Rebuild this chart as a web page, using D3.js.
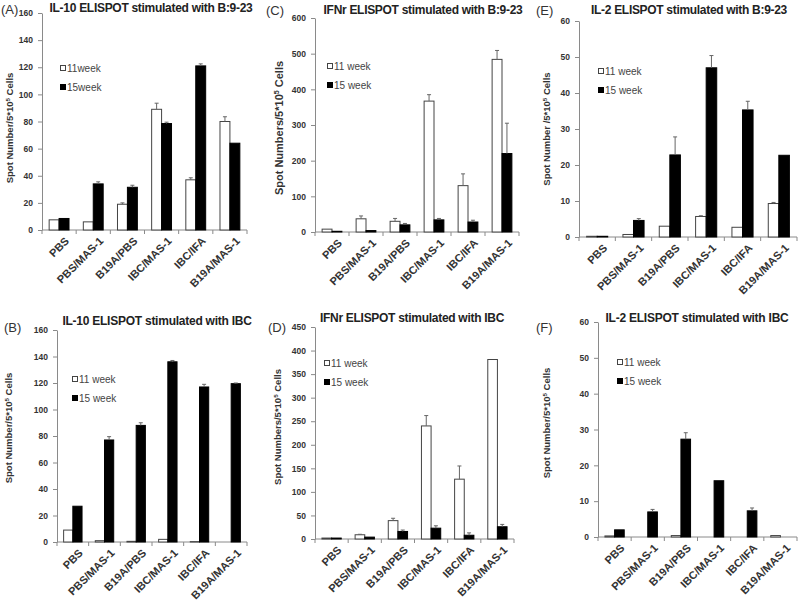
<!DOCTYPE html>
<html>
<head>
<meta charset="utf-8">
<script src="https://cdn.jsdelivr.net/npm/d3@7"></script>
<style>
  html, body { margin: 0; padding: 0; background: #fff; }
  svg { display: block; font-family: "Liberation Sans", Arial, sans-serif; }
</style>
</head>
<body>
<svg id="chart" width="800" height="600"></svg>
<script>
// ---------------- DATA ----------------
const categories = ["PBS", "PBS/MAS-1", "B19A/PBS", "IBC/MAS-1", "IBC/IFA", "B19A/MAS-1"];

// (A) IL-10, B:9-23
const il10B923_w11     = [7.5, 6, 19, 89, 37, 80];
const il10B923_w11_err = [0, 0, 1, 4.5, 1.5, 3.5];
const il10B923_w15     = [8.5, 34, 31.5, 78.5, 121, 64];
const il10B923_w15_err = [0, 1.5, 1.5, 1, 1.5, 0];
const ticksA = [0, 20, 40, 60, 80, 100, 120, 140, 160];

// (B) IL-10, IBC
const il10IBC_w11     = [9, 1, 0.5, 2, 0.3, 0];
const il10IBC_w11_err = [0, 0, 0, 0, 0, 0];
const il10IBC_w15     = [27, 77, 88, 136, 117, 119.5];
const il10IBC_w15_err = [0, 2.5, 2, 1, 2, 0.5];
const ticksB = [0, 20, 40, 60, 80, 100, 120, 140, 160];

// (C) IFNr, B:9-23
const ifnB923_w11     = [8, 37, 30, 367, 130, 484];
const ifnB923_w11_err = [0, 8, 8, 18, 33, 25];
const ifnB923_w15     = [2, 4, 20, 34, 28, 220];
const ifnB923_w15_err = [0, 0, 4, 4, 5, 85];
const ticksC = [0, 100, 200, 300, 400, 500, 600];

// (D) IFNr, IBC
const ifnIBC_w11     = [2, 9, 39, 240, 127, 381];
const ifnIBC_w11_err = [0, 1, 5, 22, 28, 0];
const ifnIBC_w15     = [2, 4, 16, 23, 8, 26];
const ifnIBC_w15_err = [0, 0, 3, 5, 5, 5];
const ticksD = [0, 50, 100, 150, 200, 250, 300, 350, 400, 450];

// (E) IL-2, B:9-23
const il2B923_w11     = [0.2, 0.7, 3, 5.7, 2.7, 9.3];
const il2B923_w11_err = [0, 0, 0, 0.2, 0, 0.3];
const il2B923_w15     = [0.2, 4.6, 22.8, 47, 35.3, 22.7];
const il2B923_w15_err = [0, 0.5, 5, 3.4, 2.4, 0];
const ticksE = [0, 10, 20, 30, 40, 50, 60];

// (F) IL-2, IBC
const il2IBC_w11     = [0.3, 0, 0.4, 0, 0, 0.4];
const il2IBC_w11_err = [0, 0, 0, 0, 0, 0];
const il2IBC_w15     = [2, 7, 27.3, 15.7, 7.3, 0];
const il2IBC_w15_err = [0, 0.7, 1.8, 0, 0.8, 0];
const ticksF = [0, 10, 20, 30, 40, 50, 60];

// ---------------- LAYOUT ----------------
const panels = [
  { tag: "(A)", title: "IL-10 ELISPOT stimulated with B:9-23", ylab: "Spot Number/5*10", ylabEnd: " Cells",
    leg: ["11week", "15week"], w11: il10B923_w11, e11: il10B923_w11_err, w15: il10B923_w15, e15: il10B923_w15_err, ticks: ticksA,
    x0: 42, x1: 247, yTop: 13, yBot: 230, tagX: 1, tagY: 9, titleX: 151, titleY: 8, titleW: 203,
    ylX: 10, ylY: 128, ylSize: 9.5, legX: 63, legY: 68 },
  { tag: "(C)", title: "IFNr ELISPOT stimulated with B:9-23", ylab: "Spot Numbers/5*10", ylabEnd: " Cells",
    leg: ["11 week", "15 week"], w11: ifnB923_w11, e11: ifnB923_w11_err, w15: ifnB923_w15, e15: ifnB923_w15_err, ticks: ticksC,
    x0: 315, x1: 519, yTop: 18, yBot: 232, tagX: 266, tagY: 10, titleX: 423, titleY: 10, titleW: 199,
    ylX: 279, ylY: 128, ylSize: 11, legX: 330, legY: 66 },
  { tag: "(E)", title: "IL-2 ELISPOT stimulated with B:9-23", ylab: "Spot Number /5*10", ylabEnd: " Cells",
    leg: ["11 week", "15 week"], w11: il2B923_w11, e11: il2B923_w11_err, w15: il2B923_w15, e15: il2B923_w15_err, ticks: ticksE,
    x0: 579, x1: 797, yTop: 21, yBot: 237, tagX: 536, tagY: 10, titleX: 689, titleY: 10, titleW: 196,
    ylX: 547, ylY: 129, ylSize: 9.5, legX: 601, legY: 71 },
  { tag: "(B)", title: "IL-10 ELISPOT stimulated with IBC", ylab: "Spot Number/5*10", ylabEnd: " Cells",
    leg: ["11 week", "15 week"], w11: il10IBC_w11, e11: il10IBC_w11_err, w15: il10IBC_w15, e15: il10IBC_w15_err, ticks: ticksB,
    x0: 57, x1: 247, yTop: 330, yBot: 542, tagX: 4, tagY: 327, titleX: 157, titleY: 321, titleW: 189,
    ylX: 9, ylY: 428, ylSize: 9.5, legX: 75, legY: 379 },
  { tag: "(D)", title: "IFNr ELISPOT stimulated with IBC", ylab: "Spot Numbers/5*10", ylabEnd: "  Cells",
    leg: ["11 week", "15 week"], w11: ifnIBC_w11, e11: ifnIBC_w11_err, w15: ifnIBC_w15, e15: ifnIBC_w15_err, ticks: ticksD,
    x0: 315, x1: 514, yTop: 327, yBot: 539, tagX: 268, tagY: 327, titleX: 412, titleY: 318, titleW: 184,
    ylX: 278, ylY: 427, ylSize: 9.5, legX: 327, legY: 363 },
  { tag: "(F)", title: "IL-2 ELISPOT stimulated with IBC", ylab: "Spot Number/5*10", ylabEnd: " Cells",
    leg: ["11 week", "15 week"], w11: il2IBC_w11, e11: il2IBC_w11_err, w15: il2IBC_w15, e15: il2IBC_w15_err, ticks: ticksF,
    x0: 598, x1: 797, yTop: 322, yBot: 537, tagX: 536, tagY: 327, titleX: 697, titleY: 318, titleW: 183,
    ylX: 547, ylY: 423, ylSize: 9.5, legX: 620, legY: 362 }
];

const svg = d3.select("#chart");
const axisColor = "#8a8a8a";
const textColor = "#333";

panels.forEach(p => {
  const g = svg.append("g");
  const maxV = d3.max(p.ticks);
  const y = d3.scaleLinear().domain([0, maxV]).range([p.yBot, p.yTop]);
  const x = d3.scaleBand().domain(categories).range([p.x0, p.x1]).paddingInner(0).paddingOuter(0);
  const xs = d3.scaleBand().domain(["w11", "w15"]).range([0, x.bandwidth()]).paddingInner(0).paddingOuter(0.72);

  // y axis
  const yAxis = d3.axisLeft(y).tickValues(p.ticks).tickSize(4).tickSizeOuter(0).tickPadding(5);
  const ya = g.append("g").attr("transform", `translate(${p.x0},0)`).call(yAxis);
  ya.select(".domain").attr("stroke", axisColor);
  ya.selectAll(".tick line").attr("stroke", axisColor);
  ya.selectAll(".tick text").attr("fill", textColor).style("font-size", "8.5px").style("font-weight", "bold")
    .style("font-family", "'Liberation Sans', Arial, sans-serif");

  // x axis line + boundary ticks
  g.append("line").attr("x1", p.x0).attr("x2", p.x1).attr("y1", p.yBot).attr("y2", p.yBot).attr("stroke", axisColor);
  const bounds = categories.map(c => x(c)).concat([p.x1]);
  g.selectAll(".xt").data(bounds).join("line")
    .attr("x1", d => d).attr("x2", d => d).attr("y1", p.yBot).attr("y2", p.yBot + 4).attr("stroke", axisColor);

  // x labels
  g.selectAll(".xl").data(categories).join("text")
    .attr("transform", c => `translate(${x(c) + x.bandwidth() / 2 + 8},${p.yBot + 9}) rotate(-45)`)
    .attr("text-anchor", "end").attr("dy", "0.35em")
    .attr("fill", textColor).style("font-size", "11px").style("font-weight", "bold")
    .text(c => c);

  // bars
  const rows = categories.map((c, i) => ({ c, i }));
  g.selectAll(".b11").data(rows).join("rect")
    .attr("x", d => x(d.c) + xs("w11")).attr("width", xs.bandwidth())
    .attr("y", d => y(p.w11[d.i])).attr("height", d => p.yBot - y(p.w11[d.i]))
    .attr("fill", "#fff").attr("stroke", "#444").attr("stroke-width", 1);
  g.selectAll(".b15").data(rows).join("rect")
    .attr("x", d => x(d.c) + xs("w15")).attr("width", xs.bandwidth())
    .attr("y", d => y(p.w15[d.i])).attr("height", d => p.yBot - y(p.w15[d.i]))
    .attr("fill", "#000").attr("stroke", "#000").attr("stroke-width", 1);

  // error bars (upper only)
  const errs = [];
  rows.forEach(d => {
    if (p.e11[d.i] > 0) errs.push({ cx: x(d.c) + xs("w11") + xs.bandwidth() / 2, v: p.w11[d.i], e: p.e11[d.i] });
    if (p.e15[d.i] > 0) errs.push({ cx: x(d.c) + xs("w15") + xs.bandwidth() / 2, v: p.w15[d.i], e: p.e15[d.i] });
  });
  const eg = g.selectAll(".err").data(errs).join("g");
  eg.append("line").attr("x1", d => d.cx).attr("x2", d => d.cx)
    .attr("y1", d => y(d.v)).attr("y2", d => y(d.v + d.e)).attr("stroke", "#666");
  eg.append("line").attr("x1", d => d.cx - 2).attr("x2", d => d.cx + 2)
    .attr("y1", d => y(d.v + d.e)).attr("y2", d => y(d.v + d.e)).attr("stroke", "#666");

  // title + tag
  g.append("text").attr("x", p.tagX).attr("y", p.tagY).attr("dy", "0.35em")
    .attr("fill", textColor).style("font-size", "13px").text(p.tag);
  const tt = g.append("text").attr("x", p.titleX).attr("y", p.titleY).attr("dy", "0.35em").attr("text-anchor", "middle")
    .attr("fill", "#222").style("font-size", "12px").style("font-weight", "bold").text(p.title);
  const natural = tt.node().getComputedTextLength();
  const ls = (p.titleW - natural) / p.title.length;
  tt.style("letter-spacing", ls.toFixed(2) + "px");

  // y label
  const yl = g.append("text")
    .attr("transform", `translate(${p.ylX},${p.ylY}) rotate(-90)`)
    .attr("text-anchor", "middle").attr("dy", "0.35em")
    .attr("fill", textColor).style("font-size", p.ylSize + "px").style("font-weight", "bold");
  yl.append("tspan").text(p.ylab);
  yl.append("tspan").attr("baseline-shift", "super").style("font-size", (p.ylSize * 0.65) + "px").text("5");
  yl.append("tspan").text(p.ylabEnd);

  // legend
  const lg = g.append("g").attr("transform", `translate(${p.legX},${p.legY})`);
  [0, 1].forEach(k => {
    lg.append("rect").attr("x", -2.5).attr("y", k * 19 - 2.5).attr("width", 5).attr("height", 5)
      .attr("fill", k === 0 ? "#fff" : "#000").attr("stroke", k === 0 ? "#444" : "#000");
    lg.append("text").attr("x", 4).attr("y", k * 19).attr("dy", "0.35em")
      .attr("fill", "#444").style("font-size", "10px").text(p.leg[k]);
  });
});
</script>
</body>
</html>
